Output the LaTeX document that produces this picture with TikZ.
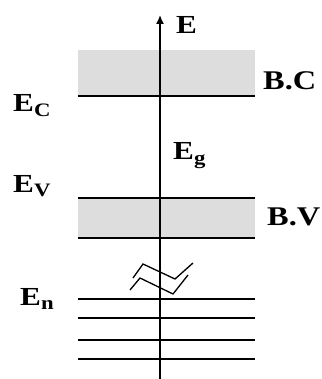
\documentclass[tikz,border=0pt]{standalone}
\usepackage{fontspec}
\setmainfont{Liberation Serif}
\usetikzlibrary{arrows.meta}

\newcommand*{\bandL}{78}
\newcommand*{\bandR}{255}
\newcommand*{\axisx}{160}
\newcommand*{\wide}[1]{\scalebox{1.2}[1]{#1}}
\newcommand*{\lowsub}[1]{\raisebox{-0.35ex}{\fontsize{19}{19}\selectfont #1}}

\begin{document}
\begin{tikzpicture}
[
	x=1pt,y=-1pt,
	level/.style={line width=1.6pt},
	band/.style={fill=gray!27,draw=none},
	lbl/.style={font=\bfseries\fontsize{26}{26}\selectfont,inner sep=0pt,anchor=base west},
	brk/.style={line width=1.3pt,line join=miter}
]
	\useasboundingbox (0,0) rectangle (321,379);

	% bands
	\fill[band] (\bandL,50) rectangle (\bandR,96);
	\fill[band] (\bandL,198) rectangle (\bandR,238);

	% levels
	\draw[level] (\bandL,96) -- (\bandR,96);
	\draw[level] (\bandL,198) -- (\bandR,198);
	\draw[level] (\bandL,238) -- (\bandR,238);
	\foreach \y in {299,318,340,359}
		\draw[level] (\bandL,\y) -- (\bandR,\y);

	% axes
	\coordinate (base) at (\axisx,379);
	\coordinate (top) at (\axisx,15);
	\draw[-{Latex[length=9pt,width=8pt]},line width=1.5pt] (base) -- (top);
	\node[lbl] (E) at (176,34) {\wide{E}};

	% break
	\draw[brk] (133,278) -- (143,264) -- (175,279) -- (193,263);
	\draw[brk] (130,290) -- (140,278) -- (173,294) -- (188,275);

	% labels
	\node[lbl] (Ec) at (13,112) {\wide{E\lowsub{C}}};
	\node[lbl] (Ev) at (13,192) {\wide{E\lowsub{V}}};
	\node[lbl] (Eg) at (173,160) {\wide{E\lowsub{g}}};
	\node[lbl] (En) at (20,305) {\wide{E\lowsub{n}}};
	\node[lbl,font=\bfseries\fontsize{27}{27}\selectfont] (BC) at (263,90) {\wide{B.C}};
	\node[lbl,font=\bfseries\fontsize{27}{27}\selectfont] (BV) at (267,225) {\wide{B.V}};

\end{tikzpicture}
\end{document}
